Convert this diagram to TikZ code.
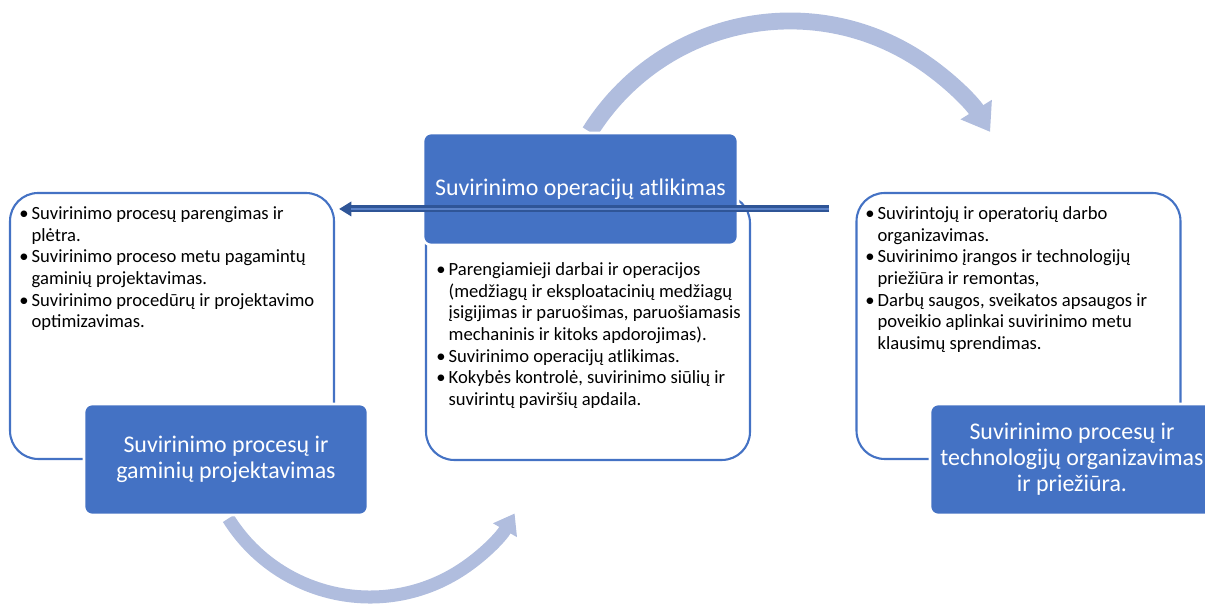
\documentclass[tikz,border=0pt]{standalone}
\usepackage{fontspec}
\setmainfont{Carlito}
\usetikzlibrary{arrows.meta}
\definecolor{boxblue}{HTML}{4472C4}
\definecolor{arcblue}{RGB}{176,189,222}
\definecolor{linkdark}{HTML}{2F5597}
\definecolor{linkmid}{HTML}{5B82C8}
\newcommand{\bul}[1]{\par\noindent\spaceskip=0pt\xspaceskip=0pt\relax
  \hangindent=7pt\hangafter=1\makebox[7pt][l]{\textbullet}#1\par}
\tikzset{
  listbox/.style={draw=boxblue, line width=1.2pt, fill=white, rounded corners=0.56cm,
    minimum width=6.48cm, minimum height=5.32cm},
  headbox/.style={draw=white, line width=1.5pt, fill=boxblue, rounded corners=0.16cm,
    text=white, align=center, font=\fontsize{13.6}{14.7}\selectfont, minimum height=2.22cm},
  itemtext/.style={anchor=base west, inner sep=0pt, text width=7cm, align=left,
    font=\fontsize{10.6}{12.3}\selectfont},
  cyclearrow/.style={draw=arcblue},
}
\begin{document}
\begin{tikzpicture}[x=0.02cm,y=0.02cm]
\useasboundingbox (0,0) rectangle (1205,604);
\coordinate (topc) at (790,347); \coordinate (botc) at (370,174);
% cycle arrows
\draw[cyclearrow, line width=9.6pt, -{Triangle[width=20pt,length=15pt]}]
  (topc) ++(148:236) arc[start angle=148, end angle=32, radius=236];
\draw[cyclearrow, line width=7.4pt, -{Triangle[width=15pt,length=11pt]}]
  (botc) ++(212:167) arc[start angle=212, end angle=330, radius=167];
% boxes
\node[listbox] (lbox) at (172,278) {};
\node[listbox, minimum height=5.3cm] (mbox) at (588,276.5) {};
\node[listbox] (rbox) at (1018.5,278) {};
\node[headbox, minimum width=5.68cm] (lhead) at (226,144.5) {Suvirinimo procesų ir\\gaminių projektavimas};
\node[headbox, minimum width=6.3cm, minimum height=2.24cm] (mhead) at (580.5,415) {Suvirinimo operacijų atlikimas};
\node[headbox, minimum width=5.68cm] (rhead) at (1072,144.5) {Suvirinimo procesų ir\\technologijų organizavimas\\ir priežiūra.};
% lists
\node[itemtext] (llist) at (19,406) {%
  \bul{Suvirinimo procesų parengimas ir\newline plėtra.}%
  \bul{Suvirinimo proceso metu pagamintų\newline gaminių projektavimas.}%
  \bul{Suvirinimo procedūrų ir projektavimo\newline optimizavimas.}};
\node[itemtext] (mlist) at (436,350) {%
  \bul{Parengiamieji darbai ir operacijos\newline (medžiagų ir eksploatacinių medžiagų\newline įsigijimas ir paruošimas, paruošiamasis\newline mechaninis ir kitoks apdorojimas).}%
  \bul{Suvirinimo operacijų atlikimas.}%
  \bul{Kokybės kontrolė, suvirinimo siūlių ir\newline suvirintų paviršių apdaila.}};
\node[itemtext] (rlist) at (865,406) {%
  \bul{Suvirintojų ir operatorių darbo\newline organizavimas.}%
  \bul{Suvirinimo įrangos ir technologijų\newline priežiūra ir remontas,}%
  \bul{Darbų saugos, sveikatos apsaugos ir\newline poveikio aplinkai suvirinimo metu\newline klausimų sprendimas.}};
% link arrow
\draw[linkdark, line width=4pt, -{Triangle[width=8pt,length=7pt]}]
  ([xshift=-0.52cm,yshift=-0.34cm]rbox.north west) -- ([xshift=0.08cm,yshift=-0.34cm]lbox.north east);
\draw[linkmid, line width=1.4pt, shorten >=7pt]
  ([xshift=-0.52cm,yshift=-0.34cm]rbox.north west) -- ([xshift=0.08cm,yshift=-0.34cm]lbox.north east);
\end{tikzpicture}
\end{document}
